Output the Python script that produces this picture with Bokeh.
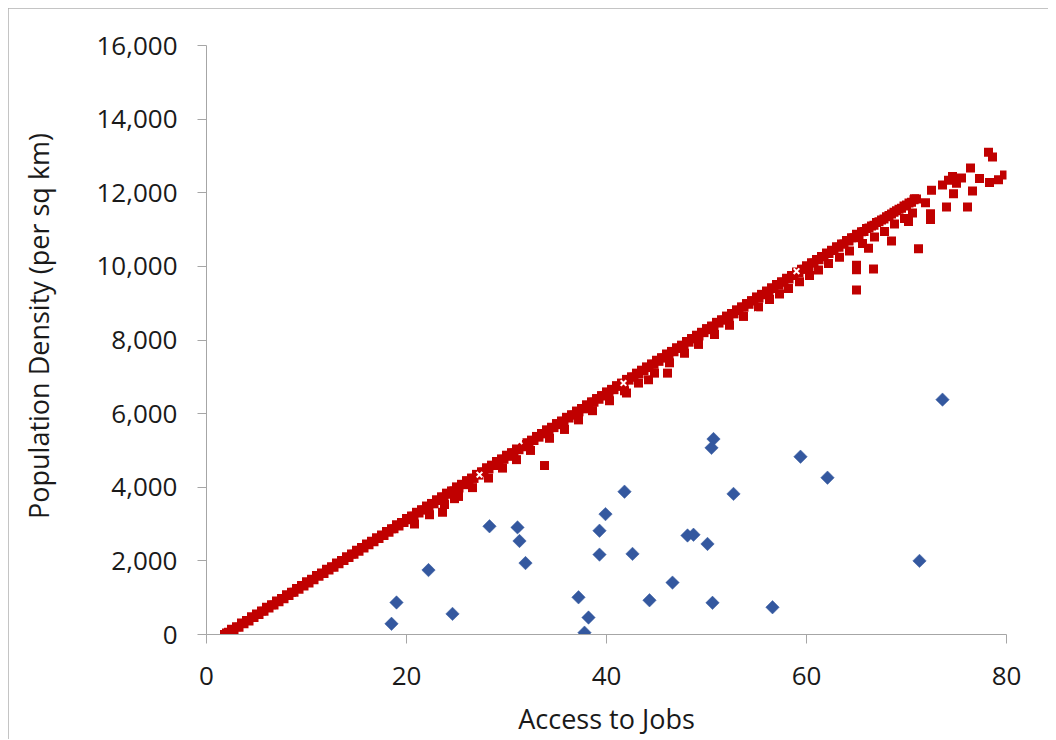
from bokeh.plotting import figure
from bokeh.models import Range1d, FixedTicker, NumeralTickFormatter
from bokeh.embed import file_html
from bokeh.resources import INLINE
import math

# ---- data ----
# Blue diamonds
blue_x = [18.5, 19.0, 22.2, 24.6, 28.3, 31.1, 31.3, 31.9, 37.2, 38.2, 37.8, 39.3, 39.3, 39.9, 41.8,
          42.6, 44.3, 46.6, 48.1, 48.7, 50.1, 50.7, 50.5, 50.6, 52.7, 56.6, 59.4, 62.1, 71.3, 73.6]
blue_y = [290, 870, 1750, 560, 2940, 2910, 2540, 1940, 1010, 460, 50, 2820, 2170, 3270, 3880,
          2190, 930, 1410, 2690, 2710, 2460, 5310, 5070, 860, 3820, 740, 4830, 4260, 2000, 6380]

# Red squares: main band
band_x = [1.8, 2.0, 2.2, 2.5, 3.0, 3.5, 4.0, 4.5, 5.0, 5.5, 6.0, 6.5, 7.0, 7.5, 8.0, 8.5, 9.0, 9.5,
          10.0, 10.5, 11.0, 11.5, 12.0, 12.5, 13.0, 13.5, 14.0, 14.5, 15.0, 15.5, 16.0, 16.5,
          17.0, 17.5, 18.0, 18.5, 19.0, 19.5, 20.0, 20.5, 21.0, 21.5, 22.0, 22.5, 23.0, 23.5,
          24.0, 24.5, 25.0, 25.5, 26.0, 26.5, 27.0, 27.5, 28.0, 28.5, 29.0, 29.5, 30.0, 30.5,
          31.0, 31.5, 32.0, 32.5, 33.0, 33.5, 34.0, 34.5, 35.0, 35.5, 36.0, 36.5, 37.0, 37.5,
          38.0, 38.5, 39.0, 39.5, 40.0, 40.5, 41.0, 41.5, 42.0, 42.5, 43.0, 43.5, 44.0, 44.5,
          45.0, 45.5, 46.0, 46.5, 47.0, 47.5, 48.0, 48.5, 49.0, 49.5, 50.0, 50.5, 51.0, 51.5,
          52.0, 52.5, 53.0, 53.5, 54.0, 54.5, 55.0, 55.5, 56.0, 56.5, 57.0, 57.5, 58.0, 58.5,
          59.0, 59.5, 60.0, 60.5, 61.0, 61.5, 62.0, 62.5, 63.0, 63.5, 64.0, 64.5, 65.0, 65.5,
          66.0, 66.5, 67.0, 67.5, 68.0, 68.5, 69.0, 69.5, 70.0, 70.5, 71.0]
band_y = [0, 40, 60, 140, 210, 310, 380, 480, 560, 640, 740, 810, 910, 980, 1080, 1150, 1250, 1330,
          1430, 1500, 1600, 1670, 1770, 1840, 1940, 2010, 2110, 2190, 2290, 2360, 2460, 2530,
          2630, 2700, 2800, 2870, 2980, 3040, 3150, 3220, 3320, 3390, 3490, 3560, 3660, 3740,
          3840, 3900, 4010, 4080, 4180, 4250, 4350, 4420, 4530, 4600, 4700, 4770, 4870, 4940,
          5040, 5110, 5210, 5280, 5380, 5460, 5560, 5630, 5730, 5800, 5900, 5970, 6070, 6140,
          6240, 6320, 6410, 6490, 6590, 6660, 6760, 6830, 6930, 7000, 7100, 7180, 7270, 7350,
          7450, 7520, 7620, 7690, 7790, 7860, 7960, 8040, 8130, 8210, 8310, 8380, 8480, 8550,
          8650, 8720, 8820, 8900, 8990, 9070, 9170, 9240, 9330, 9420, 9510, 9580, 9680, 9750,
          9850, 9920, 10020, 10100, 10190, 10270, 10360, 10440, 10530, 10610, 10700, 10780, 10870, 10940,
          11030, 11100, 11190, 11260, 11350, 11420, 11510, 11580, 11670, 11740, 11830]

# Red squares: second row inside the band
mid_x = [2.25, 2.75, 3.25, 3.75, 4.25, 4.75, 5.25, 5.75, 6.25, 6.75, 7.25, 7.75, 8.25, 8.75,
         9.25, 9.75, 10.25, 10.75, 11.25, 11.75, 12.25, 12.75, 13.25, 13.75, 14.25, 14.75,
         15.25, 15.75, 16.25, 16.75, 17.25, 17.75, 18.25, 18.75, 19.25, 19.75, 20.25, 20.75,
         21.25, 21.75, 22.25, 22.75, 23.25, 23.75, 24.25, 24.75, 25.25, 25.75, 26.25, 26.75,
         27.25, 27.75, 28.25, 28.75, 29.25, 29.75, 30.25, 30.75, 31.25, 31.75, 32.25, 32.75,
         33.25, 33.75, 34.25, 34.75, 35.25, 35.75, 36.25, 36.75, 37.25, 37.75, 38.25, 38.75,
         39.25, 39.75, 40.25, 40.75, 41.25, 41.75, 42.25, 42.75, 43.25, 43.75, 44.25, 44.75,
         45.25, 45.75, 46.25, 46.75, 47.25, 47.75, 48.25, 48.75, 49.25, 49.75, 50.25, 50.75,
         51.25, 51.75, 52.25, 52.75, 53.25, 53.75, 54.25, 54.75, 55.25, 55.75, 56.25, 56.75,
         57.25, 57.75, 58.25, 58.75, 59.25, 59.75, 60.25, 60.75, 61.25, 61.75, 62.25, 62.75,
         63.25, 63.75, 64.25, 64.75, 65.25, 65.75, 66.25, 66.75, 67.25, 67.75, 68.25, 68.75,
         69.25, 69.75, 70.25, 70.75]
mid_y = [30, 110, 200, 290, 370, 460, 540, 630, 720, 800, 890, 970, 1060, 1150,
         1230, 1320, 1400, 1490, 1580, 1660, 1750, 1830, 1920, 2010, 2090, 2180,
         2260, 2350, 2440, 2520, 2610, 2690, 2780, 2870, 2950, 3040, 3120, 3210,
         3300, 3380, 3470, 3550, 3640, 3730, 3810, 3900, 3980, 4070, 4160, 4240,
         4330, 4410, 4500, 4590, 4670, 4760, 4840, 4930, 5020, 5100, 5190, 5270,
         5360, 5450, 5530, 5620, 5700, 5790, 5880, 5960, 6050, 6130, 6220, 6310,
         6390, 6480, 6560, 6650, 6740, 6820, 6910, 6990, 7080, 7170, 7250, 7340,
         7420, 7510, 7600, 7680, 7770, 7850, 7940, 8030, 8110, 8200, 8280, 8370,
         8460, 8540, 8630, 8710, 8800, 8890, 8970, 9060, 9140, 9230, 9320, 9400,
         9490, 9570, 9660, 9750, 9830, 9920, 10000, 10090, 10180, 10260, 10350, 10430,
         10520, 10610, 10690, 10780, 10860, 10950, 11040, 11120, 11210, 11290, 11380, 11470,
         11550, 11640, 11720, 11810]

# Red squares: points just under the band
under_x = [20.8, 22.3, 23.8, 25.2, 26.6, 28.2, 29.6, 31.0, 32.4, 34.3, 35.8, 37.2, 38.6, 40.3,
           41.8, 43.2, 44.8, 46.3, 47.8, 49.2, 50.8, 52.3, 53.7, 55.2, 56.3, 57.3, 58.2, 59.3,
           60.3, 61.2, 62.2, 63.3, 64.3, 65.6, 66.8, 67.8, 68.8, 69.8, 70.6]
under_y = [3000, 3250, 3530, 3750, 3990, 4250, 4520, 4750, 5000, 5330, 5570, 5830, 6080, 6350,
           6620, 6830, 7100, 7380, 7640, 7880, 8150, 8400, 8640, 8900, 9100, 9250, 9400, 9580,
           9750, 9900, 10080, 10250, 10420, 10620, 10800, 10950, 11150, 11300, 11450]

# Red squares: scattered points
scat_x = [23.6, 24.8, 33.8, 42.0, 44.2, 46.1, 65.0, 65.0, 65.0, 66.2, 66.7, 68.5, 70.2, 71.2,
          70.8, 71.9, 72.4, 72.4, 72.5, 73.6, 74.0, 74.2, 74.6, 74.7, 75.0, 75.5, 76.1, 76.4,
          76.6, 77.3, 78.2, 78.3, 78.6, 79.2, 79.8]
scat_y = [3320, 3690, 4590, 6560, 6920, 7100, 9360, 9910, 10030, 10490, 9930, 10690, 11220, 10480,
          11840, 11730, 11430, 11270, 12070, 12210, 11610, 12340, 12440, 11970, 12260, 12400, 11610, 12670,
          12050, 12390, 13100, 12280, 12970, 12350, 12480]

# light gaps in the band
gap_x = [27.3, 31.3, 41.7, 54.7, 59.0]
gap_y = [4340, 5250, 6830, 8690, 9870]

x_ticks = [0, 20, 40, 60, 80]
y_ticks = [0, 2000, 4000, 6000, 8000, 10000, 12000, 14000, 16000]

FONT = "Open Sans"
TXT = "#1a1a1a"
AX = "#a6a6a6"
RED = "#C00000"

p = figure(width=1040, height=731, output_backend="svg", toolbar_location=None,
           x_range=Range1d(0, 80), y_range=Range1d(0, 16000),
           min_border_left=198, min_border_right=42, min_border_top=37, min_border_bottom=105)
p.margin = (8, 0, 0, 8)
p.styles = {"outline": "1px solid #b0b0b0", "outline-offset": "-1px"}
p.outline_line_color = None
p.xgrid.visible = False
p.ygrid.visible = False
p.background_fill_color = "white"
p.border_fill_color = "white"

p.scatter(blue_x, blue_y, marker="square", size=9.5, angle=math.pi / 4,
          fill_color="#34589F", line_color="#34589F", line_width=0.5)
for xs, ys in ((band_x, band_y), (mid_x, mid_y), (under_x, under_y), (scat_x, scat_y)):
    p.scatter(xs, ys, marker="square", size=9, fill_color=RED, line_color=RED, line_width=0)
p.scatter(gap_x, gap_y, marker="x", size=8, line_color="white", line_width=2)

for ax in (p.xaxis[0], p.yaxis[0]):
    ax.axis_line_color = AX
    ax.major_tick_line_color = AX
    ax.minor_tick_line_color = None
    ax.major_tick_out = 9
    ax.major_tick_in = 0
    ax.major_label_text_font = FONT
    ax.major_label_text_font_size = "26px"
    ax.major_label_text_color = TXT
    ax.axis_label_text_font = FONT
    ax.axis_label_text_font_size = "27px"
    ax.axis_label_text_color = TXT
    ax.axis_label_text_font_style = "normal"

p.xaxis[0].ticker = FixedTicker(ticks=x_ticks)
p.yaxis[0].ticker = FixedTicker(ticks=y_ticks)
p.yaxis[0].formatter = NumeralTickFormatter(format="0,0")
p.xaxis[0].axis_label = "Access to Jobs"
p.yaxis[0].axis_label = "\u00a0\u00a0\u00a0\u00a0Population Density (per sq km)"
p.yaxis[0].major_label_standoff = 20
p.xaxis[0].major_label_standoff = 23
p.yaxis[0].axis_label_standoff = 36
p.xaxis[0].axis_label_standoff = 12

open("out.html", "w").write(file_html(p, INLINE))
